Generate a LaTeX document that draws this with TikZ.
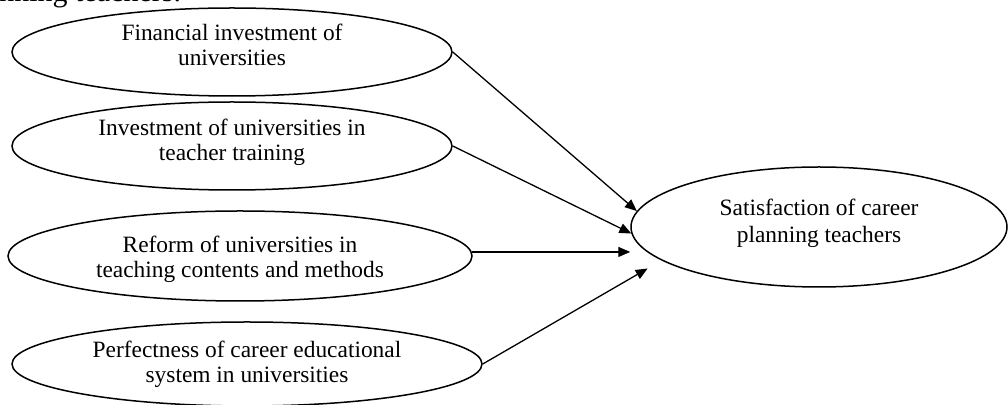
\documentclass[tikz,border=0pt]{standalone}
\usepackage{fontspec}
\setmainfont{Liberation Serif}
\usetikzlibrary{arrows.meta,shapes.geometric}
\tikzset{
  factorbox/.style={
    draw=black,
    ellipse,
    line width=0.75pt,
    inner sep=0pt,
    minimum height=44pt
  },
  targetbox/.style={
    factorbox,
    minimum width=188pt,
    minimum height=60pt
  },
  factortext/.style={
    inner sep=0pt,
    align=center,
    font=\fontsize{11.7}{12.5}\selectfont
  },
  flowarrow/.style={-{Triangle[length=6pt,width=5pt]},line width=0.65pt,draw=black}
}
\begin{document}
\begin{tikzpicture}[x=0.5pt,y=-0.5pt]
\useasboundingbox (0,0) rectangle (1008,405);
\node[anchor=base west,inner sep=0pt,font=\fontsize{15}{15}\selectfont] (caption) at (-1,2) {nning teachers.};
% causes
\node[factorbox,minimum width=220pt] (finance) at (232,52) {};
\node[factorbox,minimum width=220pt] (training) at (232,146) {};
\node[factorbox,minimum width=232pt,minimum height=45pt] (reform) at (240,256) {};
\node[factorbox,minimum width=235pt,minimum height=42pt] (system) at (247,364) {};
\node[factortext] (financetext) at ([yshift=3.5pt]finance.center) {Financial investment of\\universities};
\node[factortext] (trainingtext) at ([yshift=2pt]training.center) {Investment of universities in\\teacher training};
\node[factortext] (reformtext) at ([yshift=-1.5pt]reform.center) {Reform of universities in\\teaching contents and methods};
\node[factortext] (systemtext) at (system.center) {Perfectness of career educational\\system in universities};
% effect
\node[targetbox] (satisfaction) at (819,227) {};
\node[factortext,font=\fontsize{11.7}{13.5}\selectfont] (satisfactiontext) at ([yshift=2pt]satisfaction.center) {Satisfaction of career\\planning teachers};
\draw[flowarrow] (finance.east) -- (satisfaction.175);
\draw[flowarrow] (training.east) -- (satisfaction.182);
\draw[flowarrow] (reform.1.5) -- (reform.1.5 -| satisfaction.west);
\draw[flowarrow,shorten >=8pt] (system.east) -- (satisfaction.192);
\end{tikzpicture}
\end{document}
